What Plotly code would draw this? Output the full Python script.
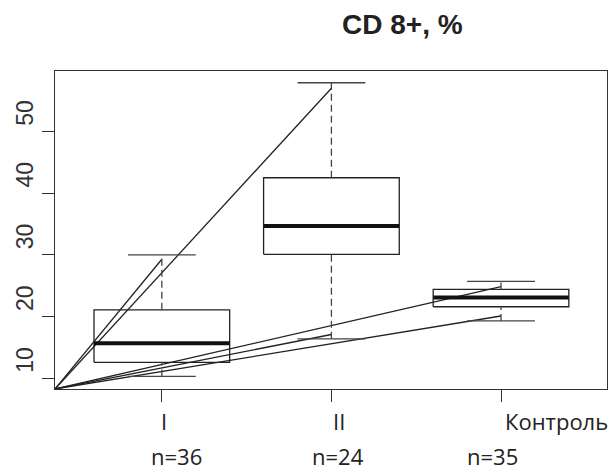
import plotly.graph_objects as go

# ---- data ----
groups = ["I", "II", "Контроль"]
positions = [1, 2, 3]
q1 = [12.6, 30.1, 21.6]
median = [15.7, 34.7, 23.1]
q3 = [21.1, 42.5, 24.4]
whisk_lo = [10.3, 16.4, 19.3]
whisk_hi = [30.0, 57.9, 25.7]
n_obs = [36, 24, 35]

# lines drawn from the lower-left corner to points on the boxes
link_pos = [1, 2, 2, 3, 3]
link_val = [29.3, 57.0, 17.1, 24.85, 20.1]

y_ticks = [10, 20, 30, 40, 50]
x_range = [0.37, 3.625]
y_range = [8.27, 59.8]

BOXW = 0.4
CAPW = 0.2
EDGE = "#222222"
FRAME = "#333333"

fig = go.Figure()

# connecting lines
for px, pv in zip(link_pos, link_val):
    fig.add_trace(go.Scatter(x=[x_range[0], px], y=[y_range[0], pv], mode="lines",
                             line=dict(color=EDGE, width=1.3), hoverinfo="skip", showlegend=False))

for p, a, m, b, lo, hi in zip(positions, q1, median, q3, whisk_lo, whisk_hi):
    # box
    fig.add_trace(go.Scatter(x=[p - BOXW, p + BOXW, p + BOXW, p - BOXW, p - BOXW],
                             y=[a, a, b, b, a], mode="lines",
                             line=dict(color=EDGE, width=1.3), hoverinfo="skip", showlegend=False))
    # median
    fig.add_trace(go.Scatter(x=[p - BOXW, p + BOXW], y=[m, m], mode="lines",
                             line=dict(color="#111111", width=4), hoverinfo="skip", showlegend=False))
    # whiskers (dashed)
    for y1, y2 in [(b, hi), (lo, a)]:
        fig.add_trace(go.Scatter(x=[p, p], y=[y1, y2], mode="lines",
                                 line=dict(color="#444444", width=1.3, dash="7px,4px"),
                                 hoverinfo="skip", showlegend=False))
    # caps
    for yc in [lo, hi]:
        fig.add_trace(go.Scatter(x=[p - CAPW, p + CAPW], y=[yc, yc], mode="lines",
                                 line=dict(color="#444444", width=1.3), hoverinfo="skip", showlegend=False))

LABEL_FONT = dict(family="Open Sans", size=22, color="#222222")
# group labels
label_x = [1.01, 2.045, 3.014]
label_anchor = ["center", "center", "left"]
for g, lx, anc in zip(groups, label_x, label_anchor):
    fig.add_annotation(x=lx, y=-0.1006, xref="x", yref="paper", text=g, showarrow=False,
                       xanchor=anc, yanchor="middle", font=LABEL_FONT)
# n labels
n_x = [1.086, 2.04, 2.95]
for nv, nx in zip(n_obs, n_x):
    fig.add_annotation(x=nx, y=-0.264, xref="x", yref="paper", text=f"n={nv}", showarrow=False,
                       xanchor="center", yanchor="bottom", font=LABEL_FONT)

# title
fig.add_annotation(x=0.63, y=1.145, xref="paper", yref="paper", text="<b>CD 8+, %</b>",
                   showarrow=False, xanchor="center", yanchor="middle",
                   font=dict(family="Liberation Sans, Arial", size=28, color="#222222"))

fig.update_layout(
    width=611, height=474,
    margin=dict(l=55, r=4, t=71, b=85),
    paper_bgcolor="white", plot_bgcolor="white",
    showlegend=False,
    xaxis=dict(range=x_range, tickvals=positions, showticklabels=False,
               ticks="outside", ticklen=12, tickcolor=FRAME, tickwidth=1.3,
               showline=True, linecolor=FRAME, linewidth=1.3, mirror=True,
               showgrid=False, zeroline=False),
    yaxis=dict(range=y_range, tickvals=y_ticks, ticks="outside", ticklen=12,
               tickcolor=FRAME, tickwidth=1.3, tickangle=-90, ticklabelshift=-15,
               tickfont=dict(family="Liberation Sans, Arial", size=23, color="#333333"),
               showline=True, linecolor=FRAME, linewidth=1.3, mirror=True,
               showgrid=False, zeroline=False),
)

fig.write_html("out.html")
